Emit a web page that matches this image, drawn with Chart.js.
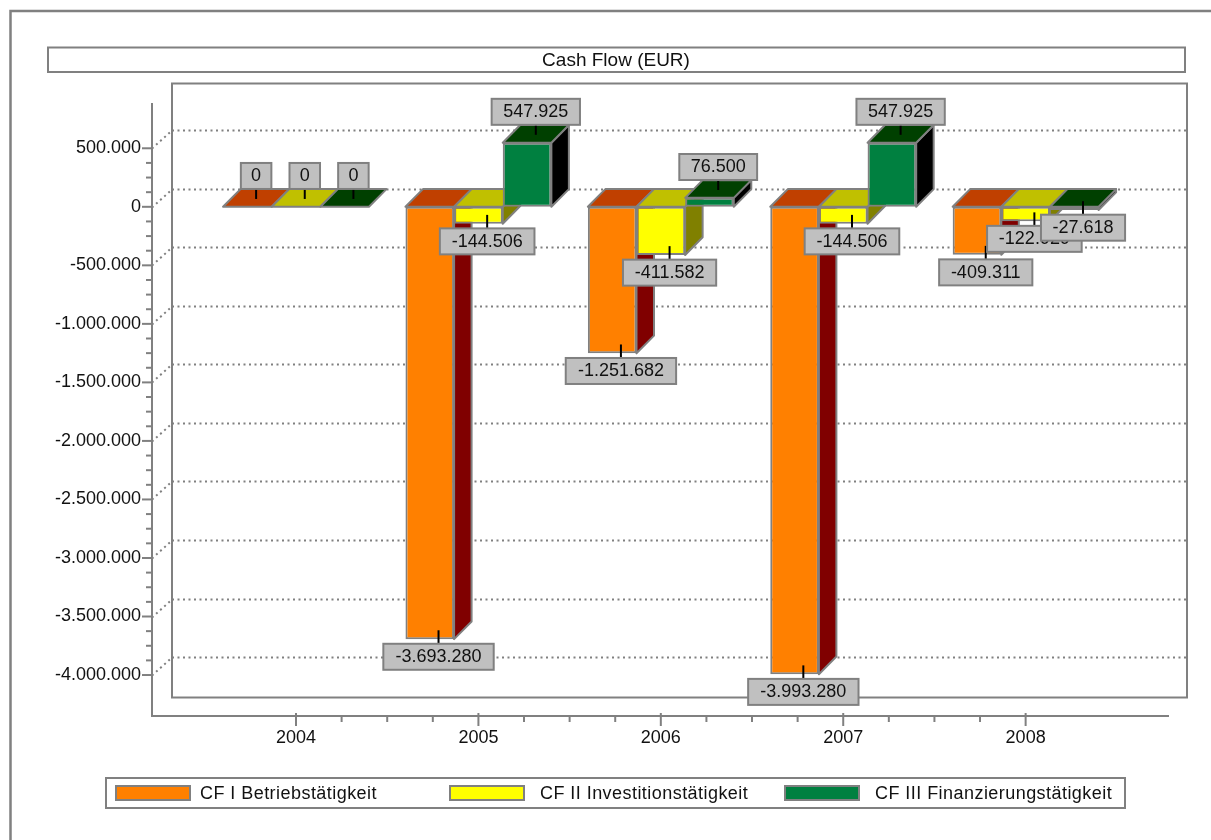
<!DOCTYPE html>
<html>
<head>
<meta charset="utf-8">
<style>html,body{margin:0;padding:0;background:#fff}canvas{display:block}</style>
<script src="https://cdn.jsdelivr.net/npm/chart.js@4/dist/chart.umd.js"></script>
</head>
<body>
<canvas id="c" width="1211" height="840"></canvas>
<script>
const years = [2004, 2005, 2006, 2007, 2008];
const cfBetrieb = [0, -3693280, -1251682, -3993280, -409311];
const cfInvest = [0, -144506, -411582, -144506, -122929];
const cfFinanz = [0, 547925, 76500, 547925, -27618];
const yTickValues = [500000, 0, -500000, -1000000, -1500000, -2000000, -2500000, -3000000, -3500000, -4000000];
const seriesNames = ['CF I Betriebstätigkeit', 'CF II Investitionstätigkeit', 'CF III Finanzierungstätigkeit'];
const chartTitle = 'Cash Flow (EUR)';

const GREY = '#808080', FONT = '"Liberation Sans", Arial, sans-serif', TEXT = '#111';
const fills = ['#FF8000', '#FFFF00', '#008040'];
const tops = ['#C04000', '#C0C000', '#004000'];
const sides = ['#800000', '#808000', '#000000'];
const DX = 17.5, DY = 17.7;
const fmt = v => String(v).replace(/\B(?=(\d{3})+$)/g, '.');

function poly(ctx, pts, fill) {
  ctx.beginPath();
  pts.forEach((p, i) => i ? ctx.lineTo(p[0], p[1]) : ctx.moveTo(p[0], p[1]));
  ctx.closePath();
  ctx.fillStyle = fill; ctx.fill();
  ctx.strokeStyle = GREY; ctx.lineWidth = 2; ctx.lineJoin = 'round'; ctx.stroke();
}
function line(ctx, x1, y1, x2, y2, color, w, dash) {
  ctx.save();
  ctx.beginPath(); ctx.moveTo(x1, y1); ctx.lineTo(x2, y2);
  ctx.strokeStyle = color; ctx.lineWidth = w; ctx.setLineDash(dash || []); ctx.stroke();
  ctx.restore();
}

const cube = {
  id: 'cube',
  afterLayout(chart) { chart.scales.y.left = 0; },
  beforeDraw(chart) {
    const ctx = chart.ctx;
    ctx.save();
    ctx.fillStyle = '#fff'; ctx.fillRect(0, 0, 1211, 840);
    ctx.strokeStyle = GREY;
    ctx.lineWidth = 2.5;
    ctx.beginPath(); ctx.moveTo(10.5, 840); ctx.lineTo(10.5, 11); ctx.lineTo(1211, 11); ctx.stroke();
    ctx.lineWidth = 2;
    ctx.strokeRect(48, 47.5, 1137, 24.5);
    ctx.strokeRect(172, 83.5, 1015, 614);
    ctx.strokeRect(106, 778, 1019, 30);
    const sw = [116, 450, 785], tx = [200, 540, 875];
    seriesNames.forEach((n, i) => {
      ctx.fillStyle = fills[i]; ctx.fillRect(sw[i], 786, 74, 14);
      ctx.strokeRect(sw[i], 786, 74, 14);
      ctx.fillStyle = TEXT; ctx.font = '18px ' + FONT; ctx.textAlign = 'left'; ctx.textBaseline = 'middle';
      ctx.letterSpacing = '0.45px';
      ctx.fillText(n, tx[i], 794);
      ctx.letterSpacing = '0px';
    });
    ctx.restore();
  },
  beforeDatasetsDraw(chart) {
    const ctx = chart.ctx, a = chart.chartArea, x = chart.scales.x, y = chart.scales.y;
    yTickValues.forEach(v => {
      const p = Math.round(y.getPixelForValue(v)) + 0.5;
      line(ctx, a.left, p, 172, p - 18, GREY, 2, [2, 3.5]);
      line(ctx, 172, p - 18, 1186, p - 18, GREY, 2, [2, 3.5]);
    });
    line(ctx, a.left, a.top, a.left, a.bottom + 1, GREY, 2);
    line(ctx, a.left, a.bottom, a.right, a.bottom, GREY, 2);
    for (let v = yTickValues[0]; v >= yTickValues[yTickValues.length - 1]; v -= 125000) {
      const p = y.getPixelForValue(v);
      const major = v % 500000 === 0;
      line(ctx, major ? a.left - 10 : a.left - 6, p, a.left, p, GREY, 2);
    }
    for (let v = years[0]; v <= years[years.length - 1]; v += 0.25) {
      const p = x.getPixelForValue(v);
      const major = Number.isInteger(v);
      line(ctx, p, major ? a.bottom - 3 : a.bottom, p, major ? a.bottom + 10 : a.bottom + 6, GREY, 2);
    }
  },
  beforeDatasetDraw() { return false; },
  afterDatasetsDraw(chart) {
    const ctx = chart.ctx;
    chart.data.datasets.forEach((ds, i) => {
      const meta = chart.getDatasetMeta(i);
      ctx.save();
      meta.data.forEach(b => {
        const l = b.x - b.width / 2, r = b.x + b.width / 2;
        const t = Math.min(b.y, b.base), bt = Math.max(b.y, b.base);
        if (bt > t) poly(ctx, [[r, t], [r + DX, t - DY], [r + DX, bt - DY], [r, bt]], sides[i]);
        poly(ctx, [[l, t], [l + DX, t - DY], [r + DX, t - DY], [r, t]], tops[i]);
      });
      ctx.restore();
      meta.controller.draw();
    });
    ctx.save();
    ctx.font = '18px ' + FONT; ctx.textAlign = 'center'; ctx.textBaseline = 'middle';
    chart.data.datasets.forEach((ds, i) => {
      chart.getDatasetMeta(i).data.forEach((b, j) => {
        const v = ds.data[j], txt = fmt(v);
        const ax = b.x + DX / 2, ay = b.y - DY / 2;
        const neg = v < 0;
        const w = ctx.measureText(txt).width * 1.05 + 20, h = 26;
        const top = neg ? ay + 13.5 : ay - 9 - h;
        line(ctx, ax, ay + (neg ? 0 : 1), ax, neg ? top : top + h, '#000', 2);
        ctx.fillStyle = '#C0C0C0'; ctx.fillRect(ax - w / 2, top, w, h);
        ctx.strokeStyle = GREY; ctx.lineWidth = 2; ctx.strokeRect(ax - w / 2, top, w, h);
        ctx.fillStyle = TEXT; ctx.fillText(txt, ax, top + h / 2 + 0.5);
      });
    });
    ctx.restore();
  }
};

new Chart(document.getElementById('c'), {
  type: 'bar',
  plugins: [cube],
  data: {
    labels: years,
    datasets: [
      { label: seriesNames[0], data: cfBetrieb, backgroundColor: fills[0] },
      { label: seriesNames[1], data: cfInvest, backgroundColor: fills[1] },
      { label: seriesNames[2], data: cfFinanz, backgroundColor: fills[2] }
    ]
  },
  options: {
    responsive: false,
    animation: false,
    layout: { padding: { left: 63, right: 42, top: 0, bottom: 0 } },
    datasets: { bar: { borderColor: GREY, borderWidth: 2, borderSkipped: false, categoryPercentage: 0.8, barPercentage: 1, clip: false } },
    plugins: {
      legend: { display: false },
      tooltip: { enabled: false },
      title: {
        display: true, text: chartTitle, color: TEXT, align: 'center',
        font: { family: FONT, size: 19, weight: 'normal', lineHeight: 1.2 },
        padding: { top: 49, bottom: 31.2 }
      }
    },
    scales: {
      x: {
        type: 'linear', offset: false, min: 2003.2105, max: 2008.786,
        grid: { display: false, drawTicks: false }, border: { display: false },
        afterBuildTicks: s => { s.ticks = years.map(v => ({ value: v })); },
        afterFit: s => { s.height = 124; },
        ticks: { autoSkip: false, maxRotation: 0, padding: 11, color: TEXT, font: { family: FONT, size: 18 }, callback: v => String(v) }
      },
      y: {
        type: 'linear', min: -4350000, max: 886860,
        grid: { display: false, drawTicks: false }, border: { display: false },
        afterBuildTicks: s => { s.ticks = yTickValues.map(v => ({ value: v })); },
        afterFit: s => { s.width = 89; },
        ticks: { autoSkip: false, padding: 11, color: TEXT, font: { family: FONT, size: 18 }, callback: v => fmt(v) }
      }
    }
  }
});
</script>
</body>
</html>
